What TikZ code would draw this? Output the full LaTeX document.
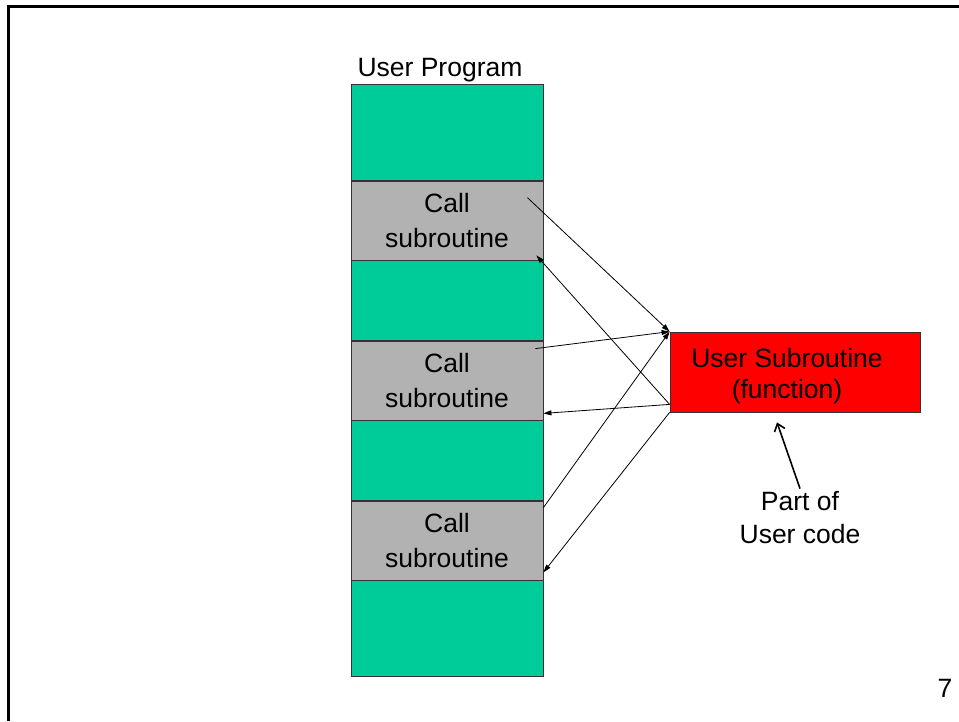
\documentclass[tikz,border=0pt]{standalone}
\usepackage{fontspec}
\setmainfont{Liberation Sans}
\usetikzlibrary{arrows.meta,calc}
\definecolor{prog}{RGB}{0,204,153}
\definecolor{callgray}{RGB}{178,178,178}
\definecolor{subred}{RGB}{255,0,0}
\tikzset{
  seg/.style={draw=black!80, line width=0.8pt, minimum width=192pt, inner sep=0pt, align=center, font=\fontsize{26.5}{35}\selectfont},
  greenseg/.style={seg, fill=prog},
  callseg/.style={seg, fill=callgray, minimum height=80pt},
  lbl/.style={font=\fontsize{26.5}{33}\selectfont, align=center, inner sep=0pt},
  link/.style={line width=0.8pt, -{Triangle[length=8pt,width=5pt]}},
  pointer/.style={line width=1.6pt, -{Straight Barb[length=7pt,width=11pt]}}
}
\begin{document}
\begin{tikzpicture}[x=1pt,y=-1pt]
\useasboundingbox (0,0) rectangle (959,721);
\draw[line width=3pt] (8,721) -- (8,6) -- (959,6);

\node[greenseg, minimum height=96pt] (g1) at (447,132) {};
\node[callseg] (c1) at (447,221) {Call\\subroutine};
\node[greenseg, minimum height=80pt] (g2) at (447,300) {};
\node[callseg] (c2) at (447,381) {Call\\subroutine};
\node[greenseg, minimum height=80pt] (g3) at (447,460) {};
\node[callseg] (c3) at (447,541) {Call\\subroutine};
\node[greenseg, minimum height=96pt] (g4) at (447,628) {};

\node[lbl, anchor=base] (title) at (440,76) {User Program};

\node[draw=black!80, line width=0.8pt, fill=subred, minimum width=250pt, minimum height=80pt, inner sep=0pt] (sub) at (795,372) {};
\node[lbl, font=\fontsize{26.5}{31}\selectfont] (subtxt) at (787,376) {User Subroutine\\(function)};

\node[lbl] (part) at (800,518) {Part of\\User code};
\node[lbl, anchor=base] (pnum) at (945,697) {7};

\draw[link] ($(c1.north east)+(-16,17)$) -- (sub.north west);
\draw[link] ($(c2.north east)+(-8,8)$) -- (sub.north west);
\draw[link] ($(c3.north east)+(0,7)$) -- (sub.north west);

\draw[link] ($(sub.south west)+(0,-8)$) -- ($(c1.south east)+(-7,-6)$);
\draw[link] ($(sub.south west)+(0,-8)$) -- ($(c2.south east)+(0,-8)$);
\draw[link] (sub.south west) -- ($(c3.south east)+(0,-9)$);

\draw[pointer] ($(part.north)+(0,-3)$) -- ($(sub.south)+(-18,10)$);
\end{tikzpicture}
\end{document}
